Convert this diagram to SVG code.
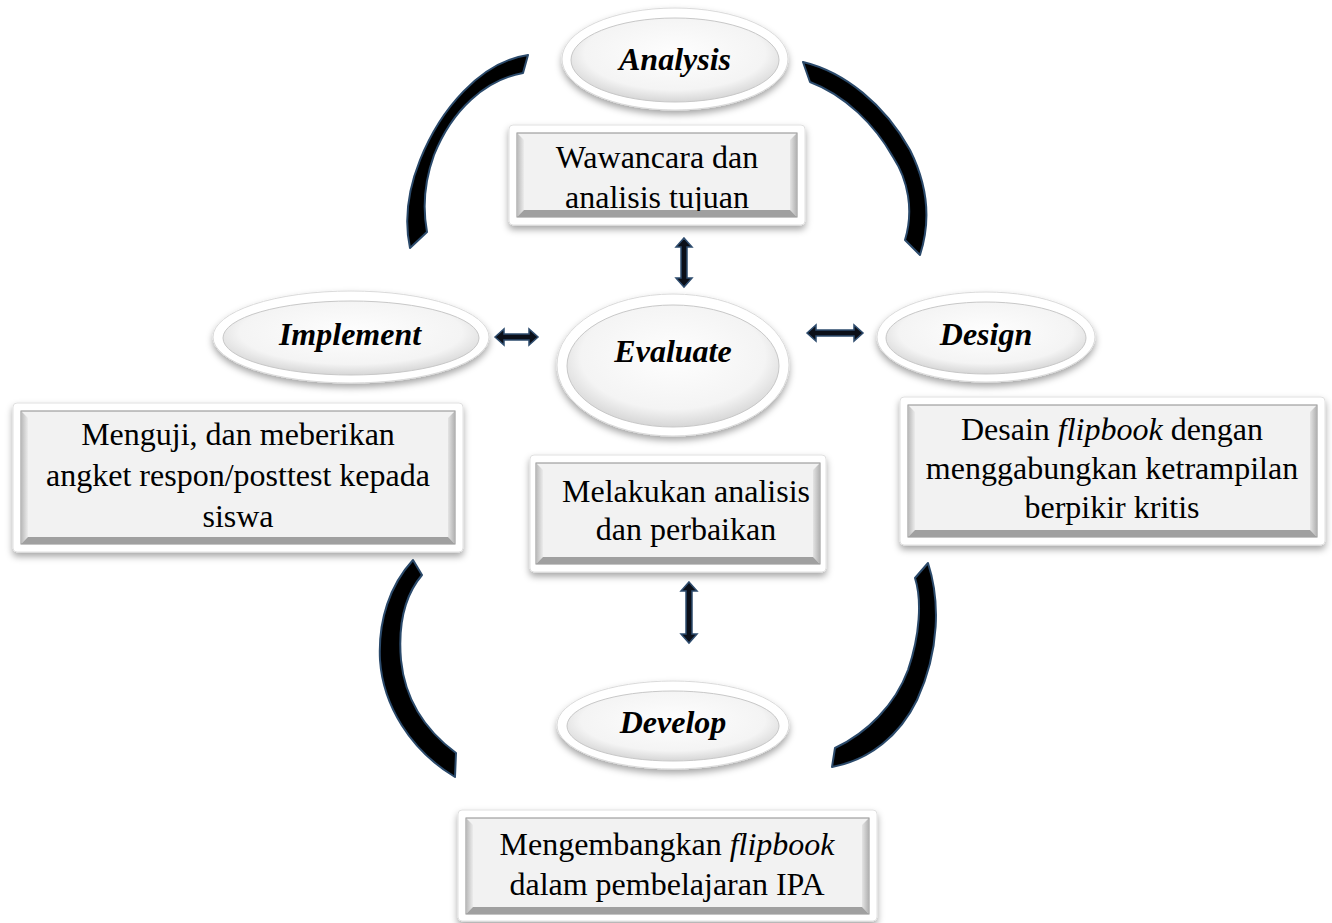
<svg xmlns="http://www.w3.org/2000/svg" width="1332" height="923" viewBox="0 0 1332 923">
<defs>
<filter id="sh" x="-20%" y="-30%" width="140%" height="170%">
<feDropShadow dx="0" dy="4" stdDeviation="3.5" flood-color="#000" flood-opacity="0.35"/>
</filter>
<radialGradient id="eg" cx="50%" cy="42%" r="58%">
<stop offset="0" stop-color="#fefefe"/>
<stop offset="0.75" stop-color="#f4f4f4"/>
<stop offset="1" stop-color="#d6d6d6"/>
</radialGradient>
<linearGradient id="bl" x1="0" y1="0" x2="1" y2="0">
<stop offset="0" stop-color="#b8b8b8"/>
<stop offset="1" stop-color="#ececec"/>
</linearGradient>
<linearGradient id="br" x1="0" y1="0" x2="1" y2="0">
<stop offset="0" stop-color="#e4e4e4"/>
<stop offset="1" stop-color="#b0b0b0"/>
</linearGradient>
<clipPath id="c1"><rect x="517" y="133" width="280" height="78"/></clipPath>
</defs>
<style>
.oe{fill:#fff;stroke:#dadada;stroke-width:1;filter:url(#sh)}
.ie{fill:url(#eg);stroke:#c8c8c8;stroke-width:1}
.lbl{font-family:"Liberation Serif",serif;font-size:32px;font-weight:bold;font-style:italic;fill:#000;text-anchor:middle}
.ob{fill:#fff;stroke:#e0e0e0;stroke-width:1;filter:url(#sh)}
.ib{fill:#f2f2f2;stroke:#8c8c8c;stroke-width:1}
.bb{fill:#a0a0a0}
.txt{font-family:"Liberation Serif",serif;font-size:32px;fill:#000;text-anchor:middle}
.arc{fill:#000;stroke:#2b4a6b;stroke-width:2;stroke-linejoin:round}
.arr{fill:#0b0f18;stroke:#2e4c6e;stroke-width:1.5;stroke-linejoin:miter}
</style>

<g id="connectors">
<path class="arc" d="M528,55 C480,62 440,110 420,160 C408,190 404,220 410,248 L427,232 C422,205 425,180 434,155 C452,110 485,80 523,73 Z"/>
<path class="arc" d="M803,62 C845,72 885,105 910,150 C925,180 933,215 920,255 L905,240 C914,210 908,180 893,157 C875,125 845,95 810,82 Z"/>
<path class="arc" d="M413,560 C390,585 378,620 380,660 C383,705 410,750 455,777 L456,753 C425,730 405,700 401,660 C398,625 405,595 422,575 Z"/>
<path class="arc" d="M928,563 C940,600 940,650 917,700 C900,735 870,760 832,767 L835,748 C867,733 895,705 908,670 C920,635 922,600 915,578 Z"/>
<polygon class="arr" points="495,337 504,329 504,334 529,334 529,329 538,337 529,345 529,340 504,340 504,345"/>
<polygon class="arr" points="807,333 816,325 816,330 854,330 854,325 863,333 854,341 854,336 816,336 816,341"/>
<polygon class="arr" points="684,238 692,247 687,247 687,278 692,278 684,287 676,278 681,278 681,247 676,247"/>
<polygon class="arr" points="689,582 697,591 692,591 692,634 697,634 689,643 681,634 686,634 686,591 681,591"/>
</g>

<g id="analysis">
<ellipse class="oe" cx="675" cy="59" rx="113" ry="51"/>
<ellipse class="ie" cx="675" cy="60" rx="104" ry="42"/>
<text class="lbl" x="675" y="70">Analysis</text>
</g>

<g id="implement">
<ellipse class="oe" cx="351" cy="337" rx="138" ry="46"/>
<ellipse class="ie" cx="351" cy="338" rx="128" ry="37"/>
<text class="lbl" x="350" y="345">Implement</text>
</g>

<g id="design">
<ellipse class="oe" cx="986" cy="337" rx="109" ry="45"/>
<ellipse class="ie" cx="986" cy="338" rx="100" ry="36"/>
<text class="lbl" x="986" y="345">Design</text>
</g>

<g id="evaluate">
<ellipse class="oe" cx="673" cy="365" rx="116" ry="71"/>
<ellipse class="ie" cx="673" cy="366" rx="106" ry="61"/>
<text class="lbl" x="673" y="362">Evaluate</text>
</g>

<g id="develop">
<ellipse class="oe" cx="673" cy="725" rx="116" ry="44"/>
<ellipse class="ie" cx="673" cy="726" rx="106" ry="35"/>
<text class="lbl" x="673" y="733">Develop</text>
</g>

<g id="box-analysis">
<rect class="ob" x="509" y="125" width="296" height="100" rx="4"/>
<rect class="ib" x="517" y="133" width="280" height="84"/>
<polygon fill="url(#bl)" points="517,133 524,140 524,210 517,217"/>
<polygon fill="url(#br)" points="797,133 790,140 790,210 797,217"/>
<polygon class="bb" points="517,217 524,210 790,210 797,217"/>
<g clip-path="url(#c1)">
<text class="txt" x="657" y="168">Wawancara dan</text>
<text class="txt" x="657" y="208">analisis tujuan</text>
</g>
</g>

<g id="box-implement">
<rect class="ob" x="13" y="403" width="450" height="149" rx="4"/>
<rect class="ib" x="21" y="411" width="434" height="133"/>
<polygon fill="url(#bl)" points="21,411 28,418 28,537 21,544"/>
<polygon fill="url(#br)" points="455,411 448,418 448,537 455,544"/>
<polygon class="bb" points="21,544 28,537 448,537 455,544"/>
<text class="txt" x="238" y="445">Menguji, dan meberikan</text>
<text class="txt" x="238" y="486">angket respon/posttest kepada</text>
<text class="txt" x="238" y="527">siswa</text>
</g>

<g id="box-design">
<rect class="ob" x="900" y="397" width="425" height="148" rx="4"/>
<rect class="ib" x="908" y="405" width="409" height="132"/>
<polygon fill="url(#bl)" points="908,405 915,412 915,530 908,537"/>
<polygon fill="url(#br)" points="1317,405 1310,412 1310,530 1317,537"/>
<polygon class="bb" points="908,537 915,530 1310,530 1317,537"/>
<text class="txt" x="1112" y="440">Desain <tspan font-style="italic">flipbook</tspan> dengan</text>
<text class="txt" x="1112" y="479">menggabungkan ketrampilan</text>
<text class="txt" x="1112" y="518">berpikir kritis</text>
</g>

<g id="box-evaluate">
<rect class="ob" x="530" y="455" width="296" height="117" rx="4"/>
<rect class="ib" x="536" y="463" width="284" height="101"/>
<polygon fill="url(#bl)" points="536,463 543,470 543,557 536,564"/>
<polygon fill="url(#br)" points="820,463 813,470 813,557 820,564"/>
<polygon class="bb" points="536,564 543,557 813,557 820,564"/>
<text class="txt" x="686" y="502">Melakukan analisis</text>
<text class="txt" x="686" y="540">dan perbaikan</text>
</g>

<g id="box-develop">
<rect class="ob" x="458" y="810" width="419" height="111" rx="4"/>
<rect class="ib" x="466" y="818" width="403" height="96"/>
<polygon fill="url(#bl)" points="466,818 473,825 473,907 466,914"/>
<polygon fill="url(#br)" points="869,818 862,825 862,907 869,914"/>
<polygon class="bb" points="466,914 473,907 862,907 869,914"/>
<text class="txt" x="667" y="855">Mengembangkan <tspan font-style="italic">flipbook</tspan></text>
<text class="txt" x="667" y="895">dalam pembelajaran IPA</text>
</g>
</svg>
